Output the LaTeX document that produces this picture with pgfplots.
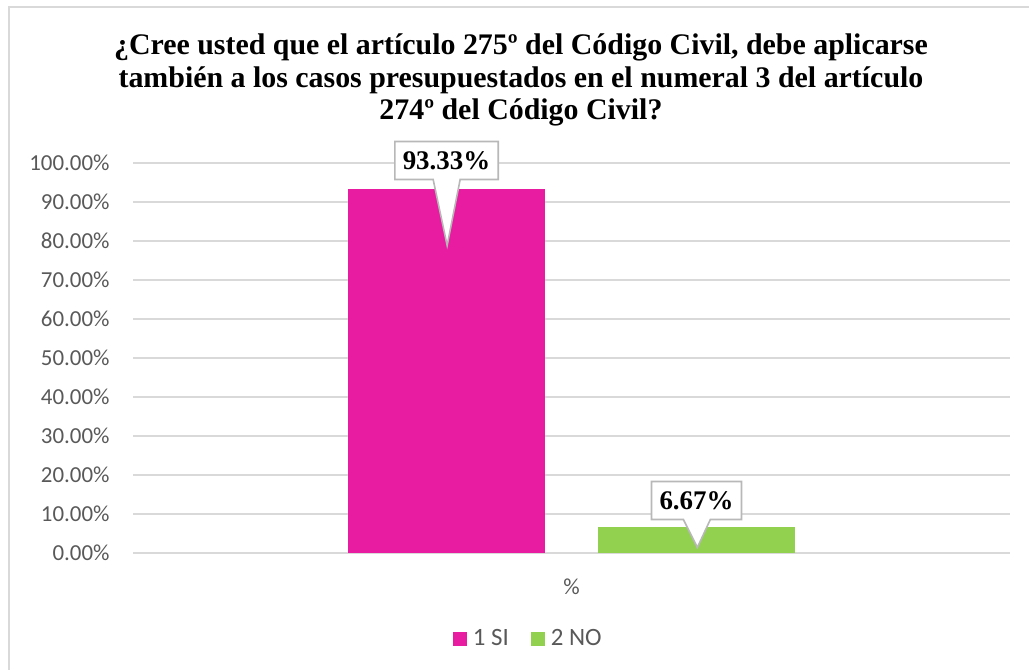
\documentclass[border=0pt]{standalone}
\usepackage{fontspec}
\setmainfont{Liberation Serif}
\newfontfamily\calibri{Carlito}
\usepackage{pgfplots}
\pgfplotsset{compat=1.18}
\usetikzlibrary{shapes.callouts}
\definecolor{sipink}{RGB}{232,28,160}
\definecolor{nogreen}{RGB}{146,208,80}
\definecolor{txtgray}{RGB}{89,89,89}
\definecolor{gridgray}{RGB}{217,217,217}

\begin{document}
\begin{tikzpicture}[x=0.5bp,y=0.5bp]
% chart frame (right and bottom edges fall outside the picture)
\draw[gridgray, line width=1bp] (9,-20) -- (9,663) -- (1060,663);
\node[font=\bfseries\fontsize{15}{16.5}\selectfont, align=center] at (521,590)
  {¿Cree usted que el artículo 275º del Código Civil, debe aplicarse\\
   también a los casos presupuestados en el numeral 3 del artículo\\
   274º del Código Civil?};
\begin{axis}[
  at={(66.5bp,58.5bp)}, anchor=south west,
  scale only axis, width=438.5bp, height=195bp,
  xmin=-1, xmax=1, ymin=0, ymax=100,
  enlargelimits=false, clip=false,
  xtick={0}, xticklabels={\%},
  ytick={0,10,...,100},
  yticklabel={\pgfmathprintnumber[fixed,fixed zerofill,precision=2]{\tick}\%},
  /pgf/number format/assume math mode=true,
  tick label style={font=\calibri\fontsize{11.5}{13}\selectfont, text=txtgray},
  yticklabel style={anchor=east, inner sep=0pt, xshift=-11.5bp},
  xticklabel style={anchor=center, inner sep=0pt, yshift=-17bp},
  axis line style={draw=none}, major tick length=0pt,
  ymajorgrids, major grid style={gridgray, line width=1bp},
  ybar, bar width=98.5bp,
  nodes near coords={\pgfmathprintnumber[fixed,fixed zerofill,precision=2]{\pgfplotspointmeta}\%},
  every node near coord/.append style={
    font=\bfseries\fontsize{13.5}{15}\selectfont, text=black,
    rectangle callout, fill=white, draw=black!28, line width=0.8bp,
    inner xsep=4bp, minimum height=19bp, anchor=center,
    callout pointer width=13.5bp},
  legend style={at={(rel axis cs:0.453,-0.2205)}, anchor=center, draw=none,
    legend columns=2, font=\calibri\fontsize{12.5}{14}\selectfont, text=txtgray,
    /tikz/every even column/.append style={column sep=8bp},
    nodes={inner xsep=3bp}},
]
\addplot+[fill=sipink, draw=none, bar shift=-62.5bp,
  every node near coord/.append style={yshift=14.25bp, callout relative pointer={(0.25bp,-33bp)}},
  legend image code/.code={\fill[sipink] (0bp,-3.5bp) rectangle (7bp,3.5bp);}]
  coordinates {(0,93.33)};
\addplot+[fill=nogreen, draw=none, bar shift=62.5bp,
  every node near coord/.append style={yshift=13.25bp, callout relative pointer={(0.25bp,-14bp)}},
  legend image code/.code={\fill[nogreen] (0bp,-3.5bp) rectangle (7bp,3.5bp);}]
  coordinates {(0,6.67)};
\legend{1 SI, 2 NO}
\end{axis}
\pgfresetboundingbox
\path[use as bounding box] (0,0) rectangle (1029,670);
\end{tikzpicture}
\end{document}
